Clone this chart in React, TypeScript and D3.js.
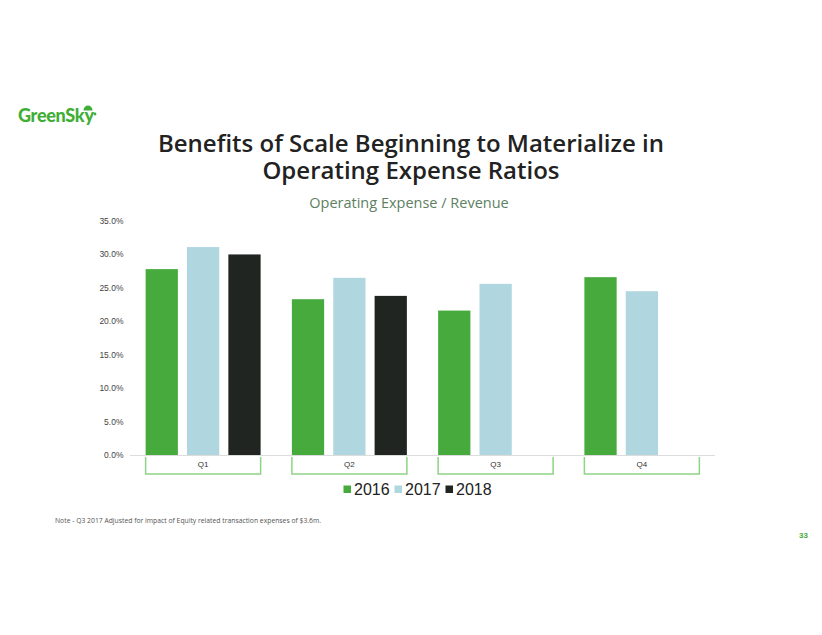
import React from "react";
import * as d3 from "d3";

const categories = ["Q1", "Q2", "Q3", "Q4"];
const seriesNames = ["2016", "2017", "2018"];
const values2016 = [27.8, 23.3, 21.6, 26.6];
const values2017 = [31.1, 26.5, 25.6, 24.5];
const values2018: (number | null)[] = [30.0, 23.8, null, null];
const yTicks = [0, 5, 10, 15, 20, 25, 30, 35];
const colors = ["#47aa3c", "#b0d7e0", "#212521"];

const W = 822;
const H = 635;

export default function App() {
  const seriesValues = [values2016, values2017, values2018];
  const x = d3.scaleBand<string>().domain(categories).range([130, 715]).paddingInner(0.2137).paddingOuter(0.1068);
  const xi = d3.scaleBand<string>().domain(seriesNames).range([0, x.bandwidth()]).paddingInner(0.22).paddingOuter(0);
  const y = d3.scaleLinear().domain([0, 35]).range([455, 221]);
  const font = "Arial, 'Liberation Sans', sans-serif";
  const openSans = "'Open Sans', 'Noto Sans', sans-serif";

  const legendItems = [
    { name: "2016", sq: 343.5, tx: 354 },
    { name: "2017", sq: 394.5, tx: 405 },
    { name: "2018", sq: 445.5, tx: 456 },
  ];

  return (
    <svg width={W} height={H} style={{ position: "absolute", left: 0, top: 0, background: "#fff" }}>
      {/* Logo */}
      <g>
        <text x={18} y={122} fontFamily="Lato, 'Noto Sans', sans-serif" fontWeight={900} fontSize={18} fill="#3fae35" letterSpacing={-0.3}>
          GreenSky
        </text>
        <path d="M83.5,110.5 A4.5,5 0 0 1 92.5,110.5 Z" fill="#3fae35" />
        <circle cx={95} cy={114} r={1.4} fill="#3fae35" />
      </g>

      {/* Title */}
      <text x={411} y={152} textAnchor="middle" fontFamily={openSans} fontWeight={600} fontSize={24} fill="#222">
        Benefits of Scale Beginning to Materialize in
      </text>
      <text x={411} y={179} textAnchor="middle" fontFamily={openSans} fontWeight={600} fontSize={24} fill="#222">
        Operating Expense Ratios
      </text>
      <text x={409} y={208} textAnchor="middle" fontFamily={openSans} fontSize={14.5} fill="#5e8062">
        Operating Expense / Revenue
      </text>

      {/* Y axis labels */}
      {yTicks.map((t) => (
        <text key={t} x={123.5} y={y(t) + 3} textAnchor="end" fontFamily={font} fontSize={8.5} fill="#444">
          {t.toFixed(1)}%
        </text>
      ))}

      {/* Bars */}
      {categories.map((c, ci) => (
        <g key={c} transform={`translate(${x(c)},0)`}>
          {seriesNames.map((s, si) => {
            const v = seriesValues[si][ci];
            if (v == null) return null;
            return (
              <rect key={s} x={xi(s)} y={y(v)} width={xi.bandwidth()} height={y(0) - y(v)} fill={colors[si]} />
            );
          })}
        </g>
      ))}

      {/* Axis line */}
      <line x1={130} x2={715} y1={455.5} y2={455.5} stroke="#dcdcdc" strokeWidth={1} />

      {/* Category boxes */}
      {categories.map((c) => {
        const x0 = x(c)!;
        const x1 = x0 + x.bandwidth();
        return (
          <g key={c}>
            <path d={`M${x0},457 V474 H${x1} V457`} fill="none" stroke="#8fd386" strokeWidth={1.5} />
            <text x={(x0 + x1) / 2} y={467} textAnchor="middle" fontFamily={font} fontSize={8} fill="#333">
              {c}
            </text>
          </g>
        );
      })}

      {/* Legend */}
      {legendItems.map((l, i) => (
        <g key={l.name}>
          <rect x={l.sq} y={485.5} width={7.5} height={7.5} fill={colors[i]} />
          <text x={l.tx} y={495} fontFamily={font} fontSize={16} fill="#222">
            {l.name}
          </text>
        </g>
      ))}

      {/* Note */}
      <text x={55} y={523} fontFamily="'Open Sans', 'Noto Sans', sans-serif" fontSize={6.8} fill="#555">
        Note - Q3 2017 Adjusted for impact of Equity related transaction expenses of $3.6m.
      </text>

      {/* Page number */}
      <text x={808} y={538} textAnchor="end" fontFamily={font} fontWeight={700} fontSize={8} fill="#47aa3c">
        33
      </text>
    </svg>
  );
}
